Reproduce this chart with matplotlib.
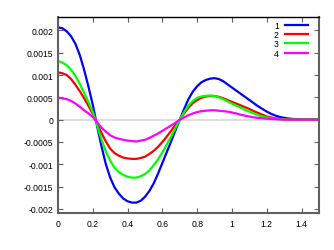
import matplotlib
matplotlib.use("Agg")
import matplotlib.pyplot as plt
from matplotlib.ticker import FuncFormatter

# values, step 0.025 in x (y in units of 1e-3)
x = [0.000, 0.025, 0.050, 0.075, 0.100, 0.125, 0.150, 0.175, 0.200, 0.225,
     0.250, 0.275, 0.300, 0.325, 0.350, 0.375, 0.400, 0.425, 0.450, 0.475,
     0.500, 0.525, 0.550, 0.575, 0.600, 0.625, 0.650, 0.675, 0.700, 0.725,
     0.750, 0.775, 0.800, 0.825, 0.850, 0.875, 0.900, 0.925, 0.950, 0.975,
     1.000, 1.025, 1.050, 1.075, 1.100, 1.125, 1.150, 1.175, 1.200, 1.225,
     1.250, 1.275, 1.300, 1.325, 1.350, 1.375, 1.400, 1.425, 1.450, 1.475,
     1.500]

s1 = [2.07, 2.05, 1.98, 1.87, 1.70, 1.45, 1.12, 0.74, 0.33, -0.15,
      -0.60, -1.00, -1.30, -1.52, -1.66, -1.77, -1.83, -1.86, -1.86, -1.82,
      -1.73, -1.60, -1.43, -1.21, -0.97, -0.73, -0.49, -0.24, 0.00, 0.24,
      0.46, 0.63, 0.75, 0.84, 0.89, 0.92, 0.93, 0.91, 0.86, 0.79,
      0.72, 0.65, 0.58, 0.51, 0.44, 0.37, 0.30, 0.24, 0.18, 0.13,
      0.09, 0.06, 0.04, 0.025, 0.015, 0.01, 0.005, 0.0, 0.0, 0.0,
      0.0]
s2 = [1.06, 1.04, 1.00, 0.91, 0.78, 0.64, 0.48, 0.31, 0.13, -0.09,
      -0.30, -0.49, -0.65, -0.75, -0.81, -0.85, -0.87, -0.88, -0.88, -0.86,
      -0.83, -0.77, -0.70, -0.61, -0.50, -0.38, -0.25, -0.12, 0.00, 0.14,
      0.27, 0.37, 0.44, 0.49, 0.52, 0.53, 0.53, 0.51, 0.48, 0.44,
      0.40, 0.36, 0.32, 0.28, 0.24, 0.19, 0.15, 0.11, 0.07, 0.05,
      0.03, 0.02, 0.01, 0.005, 0.0, 0.0, 0.0, 0.0, 0.0, 0.0,
      0.0]
s3 = [1.31, 1.28, 1.22, 1.12, 0.98, 0.80, 0.60, 0.39, 0.17, -0.13,
      -0.45, -0.72, -0.92, -1.08, -1.18, -1.24, -1.28, -1.30, -1.30, -1.27,
      -1.22, -1.14, -1.02, -0.89, -0.73, -0.56, -0.38, -0.19, 0.00, 0.17,
      0.32, 0.42, 0.49, 0.52, 0.535, 0.54, 0.53, 0.50, 0.46, 0.41,
      0.36, 0.31, 0.27, 0.22, 0.18, 0.14, 0.10, 0.07, 0.05, 0.03,
      0.02, 0.01, 0.005, 0.0, 0.0, 0.0, 0.0, 0.0, 0.0, 0.0,
      0.0]
s4 = [0.49, 0.48, 0.46, 0.42, 0.36, 0.29, 0.21, 0.14, 0.06, -0.06,
      -0.18, -0.27, -0.35, -0.40, -0.43, -0.45, -0.47, -0.48, -0.49, -0.47,
      -0.45, -0.41, -0.36, -0.31, -0.25, -0.19, -0.13, -0.07, 0.00, 0.05,
      0.10, 0.14, 0.17, 0.19, 0.20, 0.21, 0.21, 0.20, 0.19, 0.18,
      0.16, 0.14, 0.11, 0.09, 0.07, 0.05, 0.04, 0.03, 0.02, 0.015,
      0.01, 0.005, 0.0, 0.0, 0.0, 0.0, 0.0, 0.0, 0.0, 0.0,
      0.0]

series = [s1, s2, s3, s4]
labels = ["1", "2", "3", "4"]
colors = ["#0000ff", "#ff0000", "#00ff00", "#ff00ff"]

xticks = [0, 0.2, 0.4, 0.6, 0.8, 1.0, 1.2, 1.4]
yticks = [-0.002, -0.0015, -0.001, -0.0005, 0, 0.0005, 0.001, 0.0015, 0.002]

plt.rcParams["font.family"] = ["Liberation Sans", "DejaVu Sans"]
plt.rcParams["font.size"] = 6.2

fig = plt.figure(figsize=(3.34, 2.51), dpi=100)
ax = fig.add_axes([0.1737, 0.1462, 0.955 - 0.1737, 0.928 - 0.1462])

ax.axhline(0, color="#d8d8d8", lw=1.2, zorder=1)
for s, lab, c in zip(series, labels, colors):
    ax.plot(x, [v * 1e-3 for v in s], color=c, lw=1.6, label=lab, zorder=2)

ax.set_xlim(0, 1.5)
ax.set_ylim(-0.0021, 0.0023)
ax.set_xticks(xticks)
ax.set_yticks(yticks)
ax.xaxis.set_major_formatter(FuncFormatter(lambda v, p: "%g" % round(v, 6)))
ax.yaxis.set_major_formatter(FuncFormatter(lambda v, p: "%g" % round(v, 6)))
ax.tick_params(direction="in", length=3.5, width=0.8, color="#606060",
               top=True, right=True, labelsize=6.2)
ax.tick_params(axis="y", pad=3.5)
ax.tick_params(axis="x", pad=4)

for side in ["left", "right", "bottom"]:
    ax.spines[side].set_color("#606060")
    ax.spines[side].set_linewidth(1.5)
ax.spines["top"].set_color("black")
ax.spines["top"].set_linewidth(1.0)

ax.legend(loc="upper right", bbox_to_anchor=(0.981, 1.013), frameon=False,
          markerfirst=False, handlelength=2.7, handletextpad=0.7,
          labelspacing=0.05, borderaxespad=0.3, fontsize=6.2)

fig.savefig("out.png", dpi=100)
